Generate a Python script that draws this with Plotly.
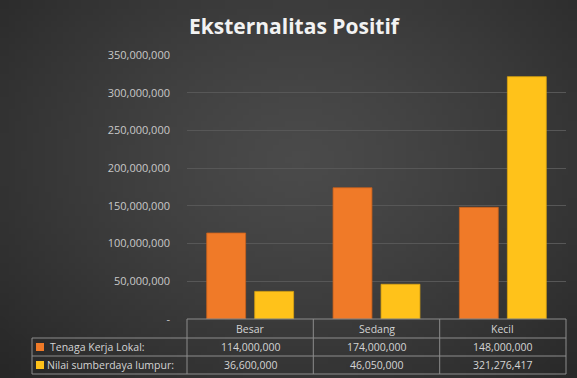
import base64, struct, zlib, math
import plotly.graph_objects as go

categories = ["Besar", "Sedang", "Kecil"]
tenaga_kerja = [114000000, 174000000, 148000000]
nilai_lumpur = [36600000, 46050000, 321276417]
series_names = ["Tenaga Kerja Lokal:", "Nilai sumberdaya lumpur:"]
tick_vals = [0, 50000000, 100000000, 150000000, 200000000, 250000000, 300000000, 350000000]
tick_text = ["-", "50,000,000", "100,000,000", "150,000,000", "200,000,000",
             "250,000,000", "300,000,000", "350,000,000"]

W, H = 577, 378
L, R, T, B = 187, 11, 55, 59
PW, PH = W - L - R, H - T - B

def px(x):
    return (x - L) / PW

def py(y):
    return (H - B - y) / PH

# radial gradient background as a tiny PNG
def make_png(w, h):
    rows = b""
    for j in range(h):
        row = b"\x00"
        for i in range(w):
            u = (i + 0.5) / w
            v = (j + 0.5) / h
            d = math.sqrt(((u - 0.52) / 0.6) ** 2 + ((v - 0.42) / 0.7) ** 2)
            d = min(d, 1.2)
            c = int(round(0x4a - (0x4a - 0x26) * (d / 1.2) ** 1.3))
            row += bytes([c, c, c])
        rows += row
    def chunk(t, data):
        return struct.pack(">I", len(data)) + t + data + struct.pack(">I", zlib.crc32(t + data) & 0xffffffff)
    png = b"\x89PNG\r\n\x1a\n"
    png += chunk(b"IHDR", struct.pack(">IIBBBBB", w, h, 8, 2, 0, 0, 0))
    png += chunk(b"IDAT", zlib.compress(rows, 9))
    png += chunk(b"IEND", b"")
    return "data:image/png;base64," + base64.b64encode(png).decode()

bg = make_png(96, 64)

fig = go.Figure()
fig.add_trace(go.Bar(x=categories, y=tenaga_kerja, name=series_names[0],
                     marker=dict(color="#F07A28", line=dict(color="#C8611C", width=0.8))))
fig.add_trace(go.Bar(x=categories, y=nilai_lumpur, name=series_names[1],
                     marker=dict(color="#FFC21A", line=dict(color="#D9A310", width=0.8))))

font_main = "Open Sans"
txt_col = "#d4d4d4"
line_col = "#8c8c8c"

shapes = []
def hline(x0, x1, y):
    shapes.append(dict(type="line", xref="paper", yref="paper", x0=px(x0), x1=px(x1),
                       y0=py(y), y1=py(y), line=dict(color=line_col, width=1)))
def vline(x, y0, y1):
    shapes.append(dict(type="line", xref="paper", yref="paper", x0=px(x), x1=px(x),
                       y0=py(y0), y1=py(y1), line=dict(color=line_col, width=1)))

hline(187, 566, 319)
for yy in (338, 356, 374):
    hline(32, 566, yy)
for xx in (187, 313.3, 439.7, 566):
    vline(xx, 319, 374)
vline(32, 338, 374)

# legend keys
shapes.append(dict(type="rect", xref="paper", yref="paper", x0=px(36), x1=px(44),
                   y0=py(351), y1=py(343), fillcolor="#F07A28", line=dict(width=0)))
shapes.append(dict(type="rect", xref="paper", yref="paper", x0=px(36), x1=px(44),
                   y0=py(369), y1=py(361), fillcolor="#FFC21A", line=dict(width=0)))

annotations = []
row_y = [347, 365]
tfont = dict(family=font_main, size=10.5, color=txt_col)
for i, c in enumerate(categories):
    annotations.append(dict(x=c, xref="x", y=py(328.5), yref="paper", text=c, showarrow=False,
                            xanchor="center", yanchor="middle", font=tfont))
    for r, vals in enumerate([tenaga_kerja, nilai_lumpur]):
        annotations.append(dict(x=c, xref="x", y=py(row_y[r]), yref="paper",
                                text=f"{vals[i]:,}", showarrow=False,
                                xanchor="center", yanchor="middle", font=tfont))
annotations.append(dict(x=px(48), xref="paper", y=py(row_y[0]), yref="paper", xanchor="left",
                        yanchor="middle", text=series_names[0], showarrow=False, font=tfont))
annotations.append(dict(x=px(45), xref="paper", y=py(row_y[1]), yref="paper", xanchor="left",
                        yanchor="middle", text=series_names[1], showarrow=False, font=tfont))

fig.update_layout(
    width=W, height=H,
    margin=dict(l=L, r=R, t=T, b=B, pad=0),
    paper_bgcolor="#3a3a3a", plot_bgcolor="rgba(0,0,0,0)",
    barmode="group", bargap=0.24, bargroupgap=0.19,
    showlegend=False,
    title=dict(text="<b>Eksternalitas Positif</b>", x=294 / W, xanchor="center",
               y=1 - 26.5 / H, yanchor="middle",
               font=dict(family=font_main, size=21, color="#f2f2f2")),
    xaxis=dict(showticklabels=False, showgrid=False, zeroline=False, showline=False,
               ticks="", range=[-0.5, 2.5]),
    yaxis=dict(range=[0, 350000000], tickvals=tick_vals, ticktext=tick_text,
               showgrid=True, gridcolor="#575757", gridwidth=1, zeroline=False,
               showline=False, ticks="", ticklabelstandoff=16,
               tickfont=dict(family=font_main, size=11, color="#c8c8c8")),
    shapes=shapes, annotations=annotations,
    images=[dict(source=bg, xref="paper", yref="paper", x=px(0), y=py(0),
                 sizex=W / PW, sizey=H / PH, sizing="stretch", layer="below",
                 xanchor="left", yanchor="top")],
)

fig.write_html("out.html")
